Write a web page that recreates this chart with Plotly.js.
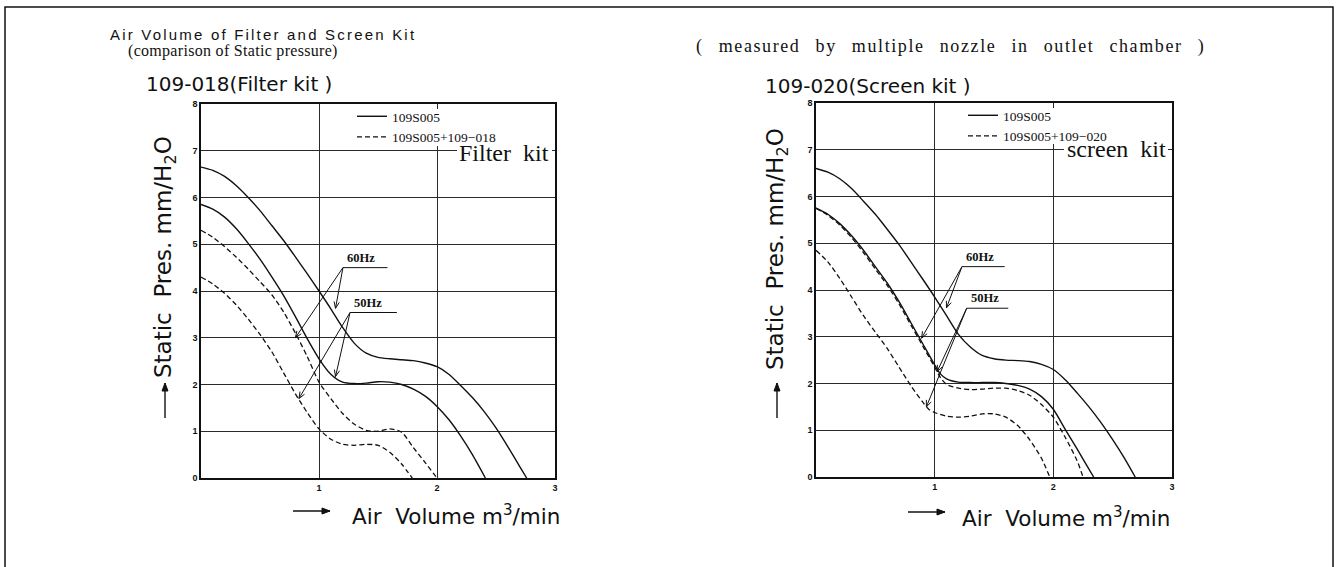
<!DOCTYPE html>
<html><head><meta charset="utf-8">
<script src="https://cdn.plot.ly/plotly-3.0.1.min.js"></script>
<style>html,body{margin:0;padding:0;background:#fff}#chart{width:1337px;height:567px}</style>
</head><body><div id="chart"></div>
<script>
// ---------- DATA ----------
// Left chart: 109-018 (Filter kit)
const leftSolid60X = [0,0.1,0.2,0.3,0.4,0.5,0.6,0.7,0.8,0.9,1.0,1.1,1.2,1.3,1.4,1.5,1.6,1.7,1.8,1.9,2.0,2.1,2.2,2.3,2.4,2.5,2.6,2.7,2.76];
const leftSolid60Y = [6.65,6.58,6.45,6.25,6.0,5.72,5.4,5.08,4.73,4.37,4.0,3.62,3.22,2.88,2.67,2.58,2.55,2.53,2.51,2.46,2.38,2.22,1.98,1.72,1.42,1.07,0.67,0.25,0];
const leftSolid50X = [0,0.1,0.2,0.3,0.4,0.5,0.6,0.7,0.8,0.9,1.0,1.1,1.2,1.3,1.4,1.5,1.6,1.7,1.8,1.9,2.0,2.1,2.2,2.3,2.41];
const leftSolid50Y = [5.85,5.75,5.58,5.33,5.02,4.68,4.3,3.9,3.45,2.98,2.55,2.22,2.05,2.02,2.03,2.06,2.05,2.0,1.9,1.75,1.53,1.25,0.9,0.5,0];
const leftDash60X = [0,0.1,0.2,0.3,0.4,0.5,0.6,0.7,0.8,0.9,1.0,1.1,1.2,1.3,1.4,1.5,1.6,1.7,1.8,1.9,2.0];
const leftDash60Y = [5.3,5.15,4.95,4.72,4.47,4.2,3.92,3.55,3.1,2.6,2.05,1.7,1.38,1.15,1.02,1.0,1.05,0.98,0.65,0.33,0];
const leftDash50X = [0,0.1,0.2,0.3,0.4,0.5,0.6,0.7,0.8,0.9,1.0,1.1,1.2,1.3,1.4,1.5,1.6,1.7,1.79];
const leftDash50Y = [4.3,4.15,3.95,3.7,3.4,3.07,2.7,2.25,1.8,1.4,1.05,0.83,0.72,0.7,0.72,0.7,0.55,0.3,0];

// Right chart: 109-020 (Screen kit)
const rightSolid60X = [0,0.1,0.2,0.3,0.4,0.5,0.6,0.7,0.8,0.9,1.0,1.1,1.2,1.3,1.4,1.5,1.6,1.7,1.8,1.9,2.0,2.1,2.2,2.3,2.4,2.5,2.6,2.69];
const rightSolid60Y = [6.6,6.52,6.38,6.17,5.9,5.62,5.3,4.97,4.6,4.23,3.85,3.45,3.05,2.78,2.6,2.53,2.5,2.49,2.47,2.41,2.3,2.08,1.8,1.5,1.17,0.8,0.4,0];
const rightSolid50X = [0,0.1,0.2,0.3,0.4,0.5,0.6,0.7,0.8,0.9,1.0,1.05,1.1,1.2,1.3,1.4,1.5,1.6,1.7,1.8,1.9,2.0,2.1,2.2,2.3,2.34];
const rightSolid50Y = [5.75,5.62,5.42,5.16,4.85,4.5,4.15,3.75,3.3,2.85,2.4,2.2,2.1,2.03,2.02,2.02,2.02,2.0,1.96,1.88,1.72,1.45,1.02,0.6,0.17,0];
const rightDash60X = [0,0.1,0.2,0.3,0.4,0.5,0.6,0.7,0.8,0.9,1.0,1.05,1.1,1.2,1.3,1.4,1.5,1.6,1.7,1.8,1.9,2.0,2.1,2.2,2.25];
const rightDash60Y = [5.75,5.6,5.39,5.12,4.8,4.45,4.1,3.7,3.25,2.8,2.35,2.12,1.98,1.9,1.87,1.88,1.9,1.9,1.85,1.75,1.55,1.28,0.85,0.35,0];
const rightDash50X = [0,0.1,0.2,0.3,0.4,0.5,0.6,0.7,0.8,0.9,0.95,1.0,1.1,1.2,1.3,1.4,1.5,1.6,1.7,1.8,1.9,1.97];
const rightDash50Y = [4.85,4.6,4.25,3.85,3.45,3.1,2.75,2.35,1.95,1.6,1.45,1.38,1.3,1.28,1.3,1.35,1.35,1.28,1.1,0.8,0.4,0];

// Series / legend names and tick labels
const baseName = "109S005";
const leftKitName = "109S005+109−018";
const rightKitName = "109S005+109−020";
const xTickVals = [1,2,3];
const xTickText = ["1","2","3"];
const yTickVals = [0,1,2,3,4,5,6,7,8];
const yTickText = ["0","1","2","3","4","5","6","7","8"];

// ---------- LAYOUT HELPERS ----------
const W = 1337, H = 567;
const px = x => x / W;
const py = y => 1 - y / H;
const SERIF = "Liberation Serif, Times New Roman, serif";
const SANS = "DejaVu Sans, sans-serif";
const NB = "\u00a0";

// pixel scale of each plot (for the arrow heads)
const LEFT_PLOT = {x0: 201, x1: 555, y0: 478, y1: 104};
const RIGHT_PLOT = {x0: 816, x1: 1172, y0: 477, y1: 103};
const scaleOf = p => ({sx: (p.x1 - p.x0) / 3, sy: (p.y0 - p.y1) / 8});

function curve(x, y, name, dash, xa, ya, leg, show, group) {
  return {
    type: 'scatter', mode: 'lines', x: x, y: y, name: name,
    xaxis: xa, yaxis: ya, legend: leg, showlegend: show, legendgroup: group,
    line: {color: '#111', width: dash ? 1.3 : 1.4, dash: dash ? '5px,3px' : 'solid', shape: 'spline', smoothing: 0.7},
    hoverinfo: 'x+y+name'
  };
}

const traces = [
  curve(leftSolid60X, leftSolid60Y, baseName, false, 'x', 'y', 'legend', true, 'l1'),
  curve(leftDash60X, leftDash60Y, leftKitName, true, 'x', 'y', 'legend', true, 'l2'),
  curve(leftSolid50X, leftSolid50Y, baseName + " 50Hz", false, 'x', 'y', 'legend', false, 'l1'),
  curve(leftDash50X, leftDash50Y, leftKitName + " 50Hz", true, 'x', 'y', 'legend', false, 'l2'),
  curve(rightSolid60X, rightSolid60Y, baseName, false, 'x2', 'y2', 'legend2', true, 'r1'),
  curve(rightDash60X, rightDash60Y, rightKitName, true, 'x2', 'y2', 'legend2', true, 'r2'),
  curve(rightSolid50X, rightSolid50Y, baseName + " 50Hz", false, 'x2', 'y2', 'legend2', false, 'r1'),
  curve(rightDash50X, rightDash50Y, rightKitName + " 50Hz", true, 'x2', 'y2', 'legend2', false, 'r2')
];

function xAxis(p, anchor) {
  return {domain: [px(p.x0), px(p.x1)], anchor: anchor, range: [0, 3], tickvals: xTickVals, ticktext: xTickText,
    showgrid: true, gridcolor: '#2a2a2a', gridwidth: 1, zeroline: false,
    showline: true, mirror: true, linecolor: '#111', linewidth: 1.5, ticks: '',
    tickfont: {family: 'Liberation Sans, Arial, sans-serif', size: 9, color: '#111', weight: 'bold'},
    automargin: false, fixedrange: true};
}
function yAxis(p, anchor) {
  return {domain: [py(p.y0), py(p.y1)], anchor: anchor, range: [0, 8], tickvals: yTickVals, ticktext: yTickText,
    showgrid: true, gridcolor: '#2a2a2a', gridwidth: 1, zeroline: false,
    showline: true, mirror: true, linecolor: '#111', linewidth: 1.5, ticks: '',
    tickfont: {family: 'Liberation Sans, Arial, sans-serif', size: 9, color: '#111', weight: 'bold'},
    automargin: false, fixedrange: true};
}

function paperText(text, x, y, opts) {
  return Object.assign({xref: 'paper', yref: 'paper', x: px(x), y: py(y), text: text, showarrow: false,
    xanchor: 'left', yanchor: 'middle', font: {family: SANS, size: 14, color: '#111'}}, opts || {});
}
function hzLabel(xa, ya, text, x, y) {
  return {xref: xa, yref: ya, x: x, y: y, text: '<b>' + text + '</b>', showarrow: false,
    xanchor: 'left', yanchor: 'bottom', font: {family: SERIF, size: 12.5, color: '#111'}};
}

const shapes = [];
const line = {color: '#111', width: 1};
// leader line (tail -> head on the curve) with a small open arrow head sized in pixels
function leader(xa, ya, plot, hx, hy, tx, ty) {
  shapes.push({type: 'line', xref: xa, yref: ya, x0: tx, y0: ty, x1: hx, y1: hy, line: line});
  const s = scaleOf(plot);
  let ux = (hx - tx) * s.sx, uy = (hy - ty) * s.sy;
  const n = Math.hypot(ux, uy); ux /= n; uy /= n;
  const L = 7, a = 22 * Math.PI / 180;
  const b1x = -L * (ux * Math.cos(a) - uy * Math.sin(a)), b1y = -L * (ux * Math.sin(a) + uy * Math.cos(a));
  const b2x = -L * (ux * Math.cos(-a) - uy * Math.sin(-a)), b2y = -L * (ux * Math.sin(-a) + uy * Math.cos(-a));
  shapes.push({type: 'path', xref: xa, yref: ya, xsizemode: 'pixel', ysizemode: 'pixel', xanchor: hx, yanchor: hy,
    path: `M${b1x.toFixed(2)},${b1y.toFixed(2)} L0,0 L${b2x.toFixed(2)},${b2y.toFixed(2)}`, line: line});
}
// axis-title arrow (line + filled head), given in page pixels
function axisArrow(tx, ty, hx, hy) {
  shapes.push({type: 'line', xref: 'paper', yref: 'paper', x0: px(tx), y0: py(ty), x1: px(hx), y1: py(hy),
    line: {color: '#111', width: 1.4}});
  let ux = hx - tx, uy = hy - ty; const n = Math.hypot(ux, uy); ux /= n; uy /= n;
  const L = 8, w = 3;
  const bx = hx - ux * L, by = hy - uy * L;
  const p1 = [bx - uy * w, by + ux * w], p2 = [bx + uy * w, by - ux * w];
  shapes.push({type: 'path', xref: 'paper', yref: 'paper',
    path: `M${px(hx)},${py(hy)} L${px(p1[0])},${py(p1[1])} L${px(p2[0])},${py(p2[1])} Z`,
    line: {color: '#111', width: 1}, fillcolor: '#111'});
}
function whiteBox(x0, y0, x1, y1) {
  shapes.push({type: 'rect', xref: 'paper', yref: 'paper', x0: px(x0), x1: px(x1), y0: py(y1), y1: py(y0),
    line: {width: 0}, fillcolor: '#fff', layer: 'above'});
}

// outer frame of the sheet
shapes.push({type: 'rect', xref: 'paper', yref: 'paper', x0: px(5), x1: px(1333), y0: -0.05, y1: py(7),
  line: {color: '#111', width: 1.5}, fillcolor: 'rgba(0,0,0,0)'});
// gaps in the grid behind legend text and kit labels
whiteBox(390, 109, 500, 146);
whiteBox(457, 145, 552, 163);
whiteBox(1001, 108, 1112, 144);
whiteBox(1064, 141, 1168, 159);
// axis title arrows
axisArrow(293, 511, 330, 511);
axisArrow(908, 512, 945, 512);
axisArrow(165, 418, 165, 383);
axisArrow(777, 418, 777, 383);
// Hz leader lines
leader('x', 'y', LEFT_PLOT, 0.80, 3.0, 1.203, 4.5);
leader('x', 'y', LEFT_PLOT, 1.14, 3.63, 1.203, 4.5);
leader('x', 'y', LEFT_PLOT, 0.83, 1.7, 1.263, 3.54);
leader('x', 'y', LEFT_PLOT, 1.14, 2.17, 1.263, 3.54);
leader('x2', 'y2', RIGHT_PLOT, 0.89, 2.97, 1.23, 4.5);
leader('x2', 'y2', RIGHT_PLOT, 1.10, 3.62, 1.23, 4.5);
leader('x2', 'y2', RIGHT_PLOT, 0.93, 1.5, 1.27, 3.61);
leader('x2', 'y2', RIGHT_PLOT, 1.02, 2.25, 1.27, 3.61);
// underlines of the Hz labels
shapes.push({type: 'line', xref: 'x', yref: 'y', x0: 1.203, x1: 1.58, y0: 4.5, y1: 4.5, line: line});
shapes.push({type: 'line', xref: 'x', yref: 'y', x0: 1.263, x1: 1.66, y0: 3.54, y1: 3.54, line: line});
shapes.push({type: 'line', xref: 'x2', yref: 'y2', x0: 1.23, x1: 1.59, y0: 4.5, y1: 4.5, line: line});
shapes.push({type: 'line', xref: 'x2', yref: 'y2', x0: 1.27, x1: 1.62, y0: 3.61, y1: 3.61, line: line});

const annotations = [
  // titles
  paperText('<span style="letter-spacing:2.2px">Air Volume of Filter and Screen Kit</span>', 108, 34,
    {font: {family: 'Liberation Sans, Arial, sans-serif', size: 15, color: '#111'}}),
  paperText('<span style="letter-spacing:0.3px">(comparison of Static pressure)</span>', 126, 51,
    {font: {family: SERIF, size: 16, color: '#111'}}),
  paperText('109-018(Filter kit )', 144, 84, {font: {family: SANS, size: 20, color: '#111'}}),
  paperText('<span style="letter-spacing:1.6px;word-spacing:9px">( measured by multiple nozzle in outlet chamber )</span>', 694, 46,
    {font: {family: SERIF, size: 18, color: '#111'}}),
  paperText('109-020(Screen kit )', 763, 86, {font: {family: SANS, size: 20, color: '#111'}}),
  // kit labels on the 7 gridline
  paperText('Filter' + NB + NB + 'kit', 551, 153, {xanchor: 'right', font: {family: SERIF, size: 24, color: '#111'}}),
  paperText('screen' + NB + NB + 'kit', 1168, 149, {xanchor: 'right', font: {family: SERIF, size: 24, color: '#111'}}),
  // axis titles
  paperText('Air' + NB + NB + 'Volume m<sup>3</sup>/min', 350, 515, {font: {family: SANS, size: 21.5, color: '#111'}}),
  paperText('Air' + NB + NB + 'Volume m<sup>3</sup>/min', 960, 517, {font: {family: SANS, size: 21.5, color: '#111'}}),
  paperText('Static' + NB + NB + 'Pres. mm/H<sub>2</sub>O', 165, 257, {xanchor: 'center', textangle: -90,
    font: {family: SANS, size: 23, color: '#111'}}),
  paperText('Static' + NB + NB + 'Pres. mm/H<sub>2</sub>O', 777, 249, {xanchor: 'center', textangle: -90,
    font: {family: SANS, size: 23, color: '#111'}}),
  // 60Hz / 50Hz labels
  hzLabel('x', 'y', '60Hz', 1.22, 4.52),
  hzLabel('x', 'y', '50Hz', 1.28, 3.56),
  hzLabel('x2', 'y2', '60Hz', 1.25, 4.52),
  hzLabel('x2', 'y2', '50Hz', 1.29, 3.63)
];

const legendBase = {orientation: 'v', xanchor: 'left', yanchor: 'top', bgcolor: 'rgba(0,0,0,0)', borderwidth: 0,
  font: {family: SERIF, size: 13.5, color: '#111'}, itemwidth: 30, tracegroupgap: 0, itemclick: false, itemdoubleclick: false};

const layout = {
  width: W, height: H, margin: {l: 0, r: 0, t: 0, b: 0},
  paper_bgcolor: '#fff', plot_bgcolor: '#fff', showlegend: true,
  xaxis: xAxis(LEFT_PLOT, 'y'),
  yaxis: yAxis(LEFT_PLOT, 'x'),
  xaxis2: xAxis(RIGHT_PLOT, 'y2'),
  yaxis2: yAxis(RIGHT_PLOT, 'x2'),
  legend: Object.assign({}, legendBase, {x: px(352), y: py(101)}),
  legend2: Object.assign({}, legendBase, {x: px(963), y: py(100)}),
  annotations: annotations,
  shapes: shapes
};

Plotly.newPlot('chart', traces, layout, {displayModeBar: false});
</script></body></html>
